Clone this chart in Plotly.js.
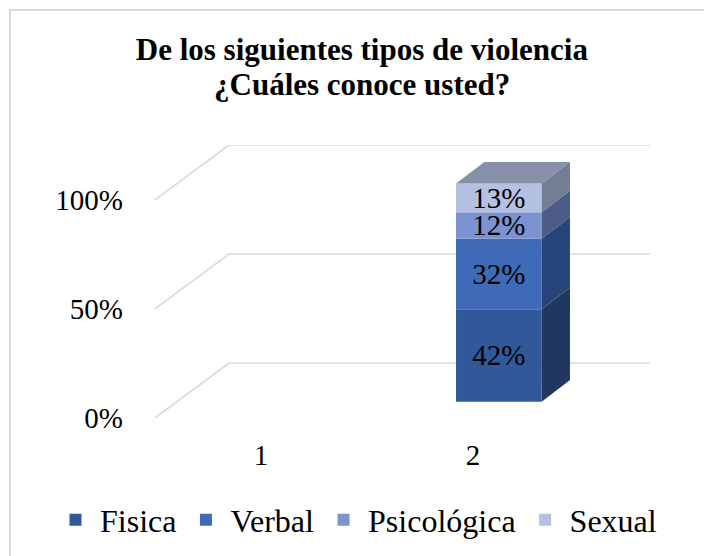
<!DOCTYPE html>
<html>
<head>
<meta charset="utf-8">
<script src="https://cdn.plot.ly/plotly-3.0.1.min.js"></script>
<style>
  html, body { margin: 0; padding: 0; background: #fff; }
  #wrap { position: relative; width: 704px; height: 556px; overflow: hidden; }
  #chart { position: absolute; left: 0; top: 0; width: 704px; height: 556px; }
  #frame { position: absolute; left: 9px; top: 9px; width: 800px; height: 800px;
           border-left: 2px solid #d9d9d9; border-top: 2px solid #d9d9d9; pointer-events: none; }
</style>
</head>
<body>
<div id="wrap"><div id="chart"></div><div id="frame"></div></div>
<script>
// ---- data ----
const categories = [1, 2];
const categoryLabels = ['1', '2'];
const seriesNames = ['Fisica', 'Verbal', 'Psicológica', 'Sexual'];
const fisica = [null, 42];
const verbal = [null, 32];
const psicologica = [null, 12];
const sexual = [null, 13];
const yTickVals = [0, 50, 100];
const yTickText = ['0%', '50%', '100%'];
const titleLines = ['De los siguientes tipos de violencia', '¿Cuáles conoce usted?'];

// ---- styling ----
const frontColors = ['#31589a', '#3e6ab8', '#7b93d0', '#b4c1e2'];
const sideColors = ['#22375f', '#27457a', '#4c5b87', '#737d93'];
const topColor = '#8790a9';
const FONT = '"Liberation Serif", "Times New Roman", serif';

// 3D-look geometry (axis units)
const WALL_DX = 0.349, WALL_DY = 25.2;   // floor depth of the back wall
const BAR_SHIFT = 0.122, BAR_W = 0.404;  // bar front face position relative to category
const BAR_LIFT = 7.5;                    // bar front face lift from front floor
const SIDE_DX = 0.1335, SIDE_DY = 9.9;   // bar side depth
const X0 = 0.5;                          // front-left corner of the floor

const series = [fisica, verbal, psicologica, sexual];
const totals = categories.map((c, i) => series.reduce((s, arr) => s + (arr[i] == null ? 0 : arr[i]), 0));
const pct = series.map(arr => arr.map((v, i) => v == null ? null : v / totals[i] * 100));

const traces = [];
const shapes = [];
const cum = categories.map(() => 0);

// gridlines (slanted side + back wall)
const xMax = 2.835;
yTickVals.forEach(v => {
  shapes.push({
    type: 'path', xref: 'x', yref: 'y', layer: 'below',
    path: `M ${X0},${v} L ${X0 + WALL_DX},${v + WALL_DY} L ${xMax},${v + WALL_DY}`,
    line: { color: '#d9d9d9', width: 1.6 }
  });
});

series.forEach((arr, s) => {
  const bases = [];
  const ys = [];
  const texts = [];
  categories.forEach((c, i) => {
    const p = pct[s][i];
    bases.push(BAR_LIFT + cum[i]);
    ys.push(p);
    texts.push(arr[i] == null ? '' : arr[i] + '%');
    if (p != null) {
      const y0 = BAR_LIFT + cum[i], y1 = y0 + p;
      const xr = c + BAR_SHIFT + BAR_W / 2;
      shapes.push({
        type: 'path', xref: 'x', yref: 'y', layer: 'above',
        path: `M ${xr},${y0} L ${xr + SIDE_DX},${y0 + SIDE_DY} L ${xr + SIDE_DX},${y1 + SIDE_DY} L ${xr},${y1} Z`,
        fillcolor: sideColors[s], line: { width: 0 }
      });
      cum[i] += p;
    }
  });
  traces.push({
    type: 'bar', name: seriesNames[s], x: categories, y: ys, base: bases,
    width: BAR_W, offset: BAR_SHIFT - BAR_W / 2,
    marker: { color: frontColors[s], line: { width: 0 } },
    text: texts, textposition: 'inside', insidetextanchor: 'middle', textangle: 0,
    constraintext: 'none',
    textfont: { family: FONT, size: 29, color: '#000' },
    hoverinfo: 'skip'
  });
});

// top face
categories.forEach((c, i) => {
  if (cum[i] > 0) {
    const yt = BAR_LIFT + cum[i];
    const xl = c + BAR_SHIFT - BAR_W / 2, xr = c + BAR_SHIFT + BAR_W / 2;
    shapes.push({
      type: 'path', xref: 'x', yref: 'y', layer: 'above',
      path: `M ${xl},${yt} L ${xl + SIDE_DX},${yt + SIDE_DY} L ${xr + SIDE_DX},${yt + SIDE_DY} L ${xr},${yt} Z`,
      fillcolor: topColor, line: { width: 0 }
    });
  }
});

const layout = {
  width: 704, height: 556,
  paper_bgcolor: '#fff', plot_bgcolor: 'rgba(0,0,0,0)',
  margin: { l: 128, r: 54, t: 145, b: 138, pad: 0, autoexpand: false },
  barmode: 'overlay',
  showlegend: true,
  title: {
    text: '<b>' + titleLines[0] + '</b>',
    font: { family: FONT, size: 31, color: '#000' },
    x: 0.514, xanchor: 'center', xref: 'container',
    y: 0.9119, yanchor: 'middle', yref: 'container'
  },
  annotations: [{
    text: '<b>' + titleLines[1] + '</b>',
    font: { family: FONT, size: 31, color: '#000' },
    xref: 'paper', yref: 'paper', x: 0.4483, y: 1.2198,
    xanchor: 'center', yanchor: 'middle', showarrow: false
  }],
  xaxis: {
    range: [0.3726, xMax], showgrid: false, zeroline: false, showline: false,
    tickmode: 'array', tickvals: categories, ticktext: categoryLabels, ticks: '',
    ticklabelstandoff: 17,
    tickfont: { family: FONT, size: 29, color: '#000' }, fixedrange: true
  },
  yaxis: {
    range: [0, 100 + WALL_DY], showgrid: false, zeroline: false, showline: false,
    tickmode: 'array', tickvals: yTickVals, ticktext: yTickText, ticks: '',
    ticklabelstandoff: 4,
    tickfont: { family: FONT, size: 29, color: '#000' }, fixedrange: true
  },
  legend: {
    orientation: 'h', xref: 'paper', x: -0.1475, xanchor: 'left', y: -0.3736, yanchor: 'middle',
    itemwidth: 39,
    font: { family: FONT, size: 32, color: '#000' },
    traceorder: 'normal', itemclick: false, itemdoubleclick: false
  },
  shapes: shapes,
  hovermode: false
};

Plotly.newPlot('chart', traces, layout, { displayModeBar: false, staticPlot: true });
</script>
</body>
</html>
